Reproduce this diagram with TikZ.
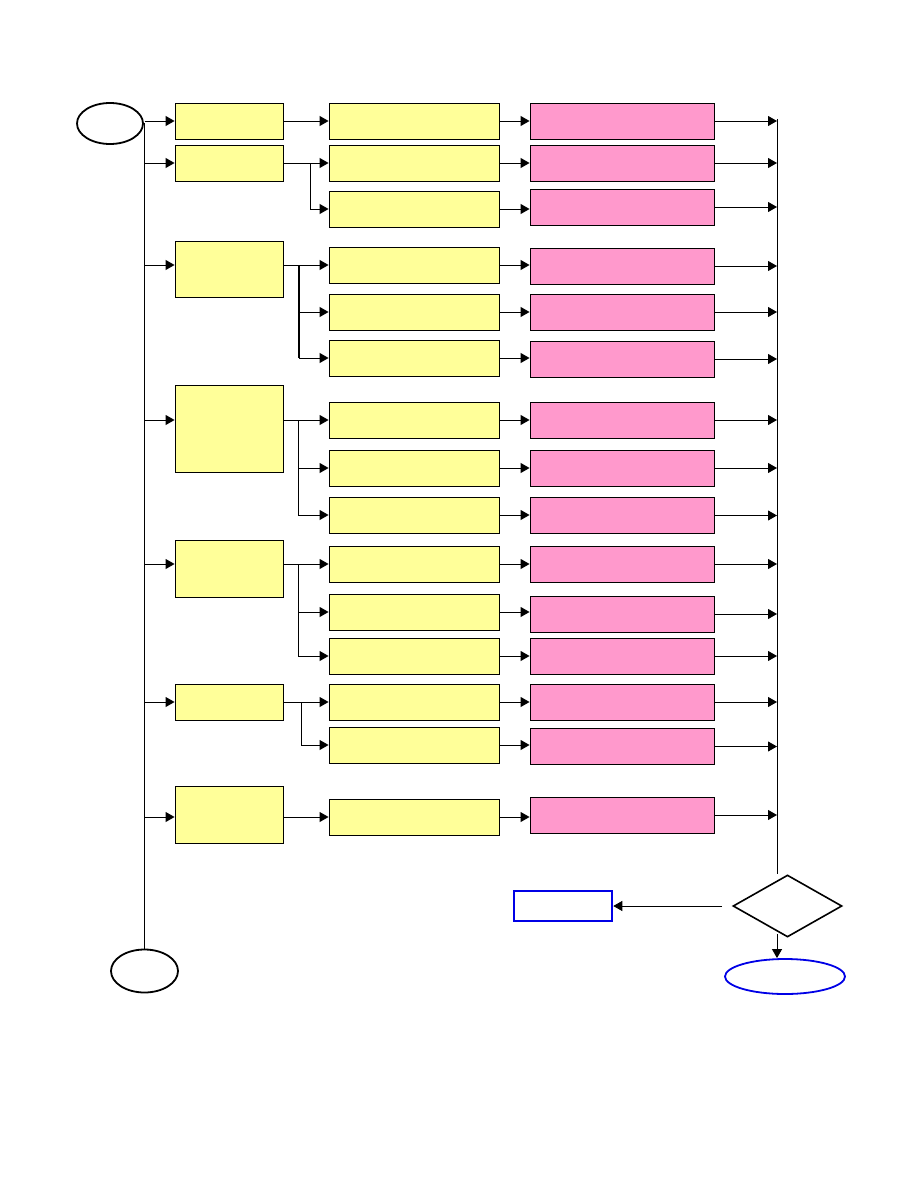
\documentclass[tikz,border=0pt]{standalone}
\usepackage{xcolor}
\usepackage{tikz}
\usetikzlibrary{arrows.meta,positioning,shapes.geometric}

\definecolor{yellowbox}{RGB}{255,255,153}
\definecolor{pinkbox}{RGB}{255,153,204}
\definecolor{bluebox}{RGB}{0,0,230}

\begin{document}
\begin{tikzpicture}[
      x=1pt, y=-1pt,
      grp/.style={rectangle, draw=black, fill=yellowbox, line width=0.9pt, minimum width=108pt, inner sep=0pt},
      task/.style={rectangle, draw=black, fill=yellowbox, line width=0.9pt, minimum width=170pt, minimum height=36pt, inner sep=0pt},
      result/.style={rectangle, draw=black, fill=pinkbox, line width=0.9pt, minimum width=184pt, minimum height=36pt, inner sep=0pt},
      term/.style={ellipse, draw=black, line width=1.8pt, minimum width=66pt, minimum height=41pt, inner sep=0pt},
      arrow/.style={-{Triangle[length=9pt,width=10pt]}, line width=0.9pt},
      link/.style={line width=0.9pt}
    ]
    \useasboundingbox (0,0) rectangle (918,1188);

    % start / stop of the trunk
    \node[term] (start) at (110,123.5) {};
    \node[term, minimum width=67pt, minimum height=43pt] (stop) at (144.5,971) {};

    % first column
    \node[grp, minimum height=36pt] (g1) at (229,121) {};
    \node[grp, minimum height=36pt] (g2) at (229,163) {};
    \node[grp, minimum height=56pt] (g3) at (229,269) {};
    \node[grp, minimum height=87pt] (g4) at (229,428.5) {};
    \node[grp, minimum height=57pt] (g5) at (229,568.5) {};
    \node[grp, minimum height=36pt] (g6) at (229,702) {};
    \node[grp, minimum height=57pt] (g7) at (229,814.5) {};

    % second column
    \node[task] (t1) at (414,121) {};
    \node[task] (t2) at (414,163) {};
    \node[task] (t3) at (414,209) {};
    \node[task] (t4) at (414,265) {};
    \node[task] (t5) at (414,312) {};
    \node[task] (t6) at (414,358) {};
    \node[task] (t7) at (414,420) {};
    \node[task] (t8) at (414,468) {};
    \node[task] (t9) at (414,515) {};
    \node[task] (t10) at (414,564) {};
    \node[task] (t11) at (414,612) {};
    \node[task] (t12) at (414,656) {};
    \node[task] (t13) at (414,702) {};
    \node[task] (t14) at (414,745) {};
    \node[task] (t15) at (414,817) {};

    % third column
    \node[result] (p1) at (622,121) {};
    \node[result] (p2) at (622,163) {};
    \node[result] (p3) at (622,207) {};
    \node[result] (p4) at (622,266) {};
    \node[result] (p5) at (622,312) {};
    \node[result] (p6) at (622,359) {};
    \node[result] (p7) at (622,420) {};
    \node[result] (p8) at (622,468) {};
    \node[result] (p9) at (622,515.5) {};
    \node[result] (p10) at (622,564) {};
    \node[result] (p11) at (622,614) {};
    \node[result] (p12) at (622,656) {};
    \node[result] (p13) at (622,702) {};
    \node[result] (p14) at (622,746.5) {};
    \node[result] (p15) at (622,815) {};

    % decision and its exits
    \node[diamond, draw=black, line width=1.6pt, minimum width=109pt, minimum height=62pt, inner sep=0pt] (check) at (787.5,906) {};
    \node[rectangle, draw=bluebox, line width=2.6pt, minimum width=98pt, minimum height=30pt, inner sep=0pt] (fault) at (563,906) {};
    \node[ellipse, draw=bluebox, line width=1.8pt, minimum width=120pt, minimum height=35pt, inner sep=0pt] (done) at (785,976.5) {};

    \coordinate (railtop) at (777,119);
    \coordinate (checkout) at (777,934);
    \coordinate (b2) at (310,163);
    \coordinate (b3) at (299,265);
    \coordinate (b4) at (298,420);
    \coordinate (b5) at (298,564);
    \coordinate (b6) at (301,702);

    % trunk and rail
    \draw[link] (start.east -| stop.north) -- (stop.north);
    \draw[link] (railtop) -- (railtop |- check.north);

    % trunk to first column
    \draw[arrow] (t1 -| stop.north) -- (t1 -| g1.west);
    \draw[arrow] (t2 -| stop.north) -- (t2 -| g2.west);
    \draw[arrow] (t4 -| stop.north) -- (t4 -| g3.west);
    \draw[arrow] (t7 -| stop.north) -- (t7 -| g4.west);
    \draw[arrow] (t10 -| stop.north) -- (t10 -| g5.west);
    \draw[arrow] (t13 -| stop.north) -- (t13 -| g6.west);
    \draw[arrow] (t15 -| stop.north) -- (t15 -| g7.west);

    % first column to second column
    \draw[arrow] (t1 -| g1.east) -- (t1.west);
    \draw[arrow] (t2 -| g2.east) -- (t2.west);
    \draw[arrow] (b2) |- (t3.west);
    \draw[arrow] (t4 -| g3.east) -- (t4.west);
    \draw[arrow] (b3) |- (t5.west);
    \draw[arrow] (b3) |- (t6.west);
    \draw[line width=1.8pt] (b3) -- (b3 |- t6);
    \draw[arrow] (t7 -| g4.east) -- (t7.west);
    \draw[arrow] (b4) |- (t8.west);
    \draw[arrow] (b4) |- (t9.west);
    \draw[arrow] (t10 -| g5.east) -- (t10.west);
    \draw[arrow] (b5) |- (t11.west);
    \draw[arrow] (b5) |- (t12.west);
    \draw[arrow] (t13 -| g6.east) -- (t13.west);
    \draw[arrow] (b6) |- (t14.west);
    \draw[arrow] (t15 -| g7.east) -- (t15.west);

    % second column to third column
    \draw[arrow] (t1.east) -- (t1.east -| p1.west);
    \draw[arrow] (t2.east) -- (t2.east -| p2.west);
    \draw[arrow] (t3.east) -- (t3.east -| p3.west);
    \draw[arrow] (t4.east) -- (t4.east -| p4.west);
    \draw[arrow] (t5.east) -- (t5.east -| p5.west);
    \draw[arrow] (t6.east) -- (t6.east -| p6.west);
    \draw[arrow] (t7.east) -- (t7.east -| p7.west);
    \draw[arrow] (t8.east) -- (t8.east -| p8.west);
    \draw[arrow] (t9.east) -- (t9.east -| p9.west);
    \draw[arrow] (t10.east) -- (t10.east -| p10.west);
    \draw[arrow] (t11.east) -- (t11.east -| p11.west);
    \draw[arrow] (t12.east) -- (t12.east -| p12.west);
    \draw[arrow] (t13.east) -- (t13.east -| p13.west);
    \draw[arrow] (t14.east) -- (t14.east -| p14.west);
    \draw[arrow] (t15.east) -- (t15.east -| p15.west);

    % third column to rail
    \draw[arrow] (p1.east) -- (p1.east -| railtop);
    \draw[arrow] (p2.east) -- (p2.east -| railtop);
    \draw[arrow] (p3.east) -- (p3.east -| railtop);
    \draw[arrow] (p4.east) -- (p4.east -| railtop);
    \draw[arrow] (p5.east) -- (p5.east -| railtop);
    \draw[arrow] (p6.east) -- (p6.east -| railtop);
    \draw[arrow] (p7.east) -- (p7.east -| railtop);
    \draw[arrow] (p8.east) -- (p8.east -| railtop);
    \draw[arrow] (p9.east) -- (p9.east -| railtop);
    \draw[arrow] (p10.east) -- (p10.east -| railtop);
    \draw[arrow] (p11.east) -- (p11.east -| railtop);
    \draw[arrow] (p12.east) -- (p12.east -| railtop);
    \draw[arrow] (p13.east) -- (p13.east -| railtop);
    \draw[arrow] (p14.east) -- (p14.east -| railtop);
    \draw[arrow] (p15.east) -- (p15.east -| railtop);

    % decision exits
    \draw[arrow] ([xshift=-10pt]check.west) -- (fault.east);
    \draw[arrow] (checkout) -- (checkout |- done.north);
  \end{tikzpicture}
\end{document}
